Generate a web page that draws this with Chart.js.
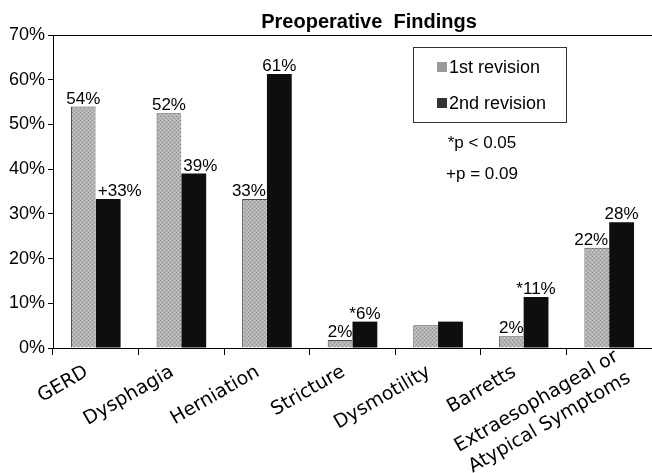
<!DOCTYPE html>
<html>
<head>
<meta charset="utf-8">
<script src="https://cdn.jsdelivr.net/npm/chart.js@4"></script>
<style>
  html, body { margin: 0; padding: 0; background: #fff; }
  #wrap { width: 652px; height: 473px; }
</style>
</head>
<body>
<div id="wrap"><canvas id="chart" width="652" height="473"></canvas></div>
<script>
// Chart data
const categories = ['GERD', 'Dysphagia', 'Herniation', 'Stricture', 'Dysmotility', 'Barretts',
  ['Extraesophageal or', 'Atypical Symptoms']];
const firstRevision = [54, 52.5, 33.3, 1.8, 5.1, 2.6, 22.4];
const secondRevision = [33.3, 39, 61.3, 5.9, 5.9, 11.4, 28.1];
const firstLabels = ['54%', '52%', '33%', '2%', '', '2%', '22%'];
const secondLabels = ['+33%', '39%', '61%', '*6%', '', '*11%', '28%'];
const notes = ['*p < 0.05', '+p = 0.09'];
const titleText = 'Preoperative  Findings';

const sansFont = "'Liberation Sans', Arial, sans-serif";
const catFont = "19px 'DejaVu Sans', Verdana, sans-serif";

// speckled gray texture for the 1st revision bars
function grayPattern() {
  const c = document.createElement('canvas');
  c.width = 4; c.height = 4;
  const g = c.getContext('2d');
  g.fillStyle = '#b4b4b4';
  g.fillRect(0, 0, 4, 4);
  g.fillStyle = '#8e8e8e';
  g.fillRect(0, 0, 1, 1);
  g.fillRect(2, 2, 1, 1);
  g.fillStyle = '#c8c8c8';
  g.fillRect(2, 0, 1, 1);
  g.fillRect(0, 2, 1, 1);
  return g.createPattern(c, 'repeat');
}

const ctx = document.getElementById('chart').getContext('2d');
const gray = grayPattern();

// draws title, legend box, notes, value labels and the slanted category labels
const extrasPlugin = {
  id: 'extras',
  afterDraw(chart) {
    const c = chart.ctx;
    c.save();

    // title
    c.fillStyle = '#000';
    c.font = 'bold 20px ' + sansFont;
    c.textAlign = 'center';
    c.textBaseline = 'alphabetic';
    c.fillText(titleText, 369, 28);

    // value labels, pushed sideways when the neighbour bar is taller
    c.font = '17px ' + sansFont;
    c.textAlign = 'left';
    const m0 = chart.getDatasetMeta(0).data;
    const m1 = chart.getDatasetMeta(1).data;
    for (let j = 0; j < categories.length; j++) {
      const a = m0[j], b = m1[j];
      if (firstLabels[j]) {
        const w = c.measureText(firstLabels[j]).width;
        let x = a.x - w / 2;
        if (b.y < a.y && x + w > b.x - b.width / 2) x = b.x - b.width / 2 - w - 1;
        c.fillText(firstLabels[j], x, a.y - 3);
      }
      if (secondLabels[j]) {
        const w = c.measureText(secondLabels[j]).width;
        let x = b.x - w / 2;
        if (a.y < b.y && x < a.x + a.width / 2) x = a.x + a.width / 2 + 2;
        c.fillText(secondLabels[j], x, b.y - 3);
      }
    }

    // category labels, rotated 30 degrees
    const xs = chart.scales.x;
    c.font = catFont;
    c.textAlign = 'right';
    categories.forEach((cat, i) => {
      const lines = Array.isArray(cat) ? cat : [cat];
      const multi = lines.length > 1;
      c.save();
      c.translate(xs.getPixelForTick(i) - 6.5, xs.top + 27);
      c.rotate(-Math.PI / 6);
      lines.forEach((ln, k) => {
        c.fillText(ln, multi ? 22 : 0, k * 24.7 + (multi ? -5 : 0));
      });
      c.restore();
    });

    // legend box
    c.strokeStyle = '#333';
    c.lineWidth = 1;
    c.strokeRect(413.5, 47.5, 153, 75);
    c.font = '18px ' + sansFont;
    c.textAlign = 'left';
    c.textBaseline = 'middle';
    chart.data.datasets.forEach((ds, i) => {
      const y = 67 + i * 36;
      c.fillStyle = ds.legendColor;
      c.fillRect(437, y - 5, 10, 10);
      c.fillStyle = '#000';
      c.fillText(ds.label, 449, y + 1);
    });

    // significance notes
    c.font = '17px ' + sansFont;
    c.textAlign = 'center';
    notes.forEach((n, i) => c.fillText(n, 482, 143 + i * 31));

    c.restore();
  }
};

new Chart(ctx, {
  type: 'bar',
  data: {
    labels: categories,
    datasets: [
      {
        label: '1st revision',
        data: firstRevision,
        backgroundColor: gray,
        borderColor: '#4a4a4a',
        borderWidth: { top: 1, left: 1, right: 0, bottom: 0 },
        legendColor: '#9a9a9a'
      },
      {
        label: '2nd revision',
        data: secondRevision,
        backgroundColor: '#0e0e0e',
        borderWidth: 0,
        legendColor: '#333'
      }
    ]
  },
  options: {
    responsive: false,
    animation: false,
    layout: { padding: { top: 35, right: 0, bottom: 0, left: 0 } },
    datasets: {
      bar: { categoryPercentage: 0.58, barPercentage: 1 }
    },
    plugins: {
      legend: { display: false },
      title: { display: false },
      tooltip: { enabled: false }
    },
    scales: {
      x: {
        offset: true,
        border: { display: true, color: '#000', width: 1 },
        grid: {
          offset: true,
          drawOnChartArea: false,
          tickLength: 7,
          tickColor: '#000'
        },
        ticks: { display: false, autoSkip: false },
        afterFit(scale) { scale.height = 125; }
      },
      y: {
        min: 0,
        max: 70,
        border: { display: true, color: '#000', width: 1 },
        grid: {
          drawOnChartArea: true,
          color: (c) => (c.tick && c.tick.value === 70 ? '#000' : 'rgba(0,0,0,0)'),
          tickColor: '#000',
          tickLength: 5
        },
        ticks: {
          stepSize: 10,
          color: '#000',
          padding: 3,
          font: { family: sansFont, size: 18 },
          callback: (v) => v + '%'
        },
        afterFit(scale) { scale.width = 53; }
      }
    }
  },
  plugins: [extrasPlugin]
});
</script>
</body>
</html>
